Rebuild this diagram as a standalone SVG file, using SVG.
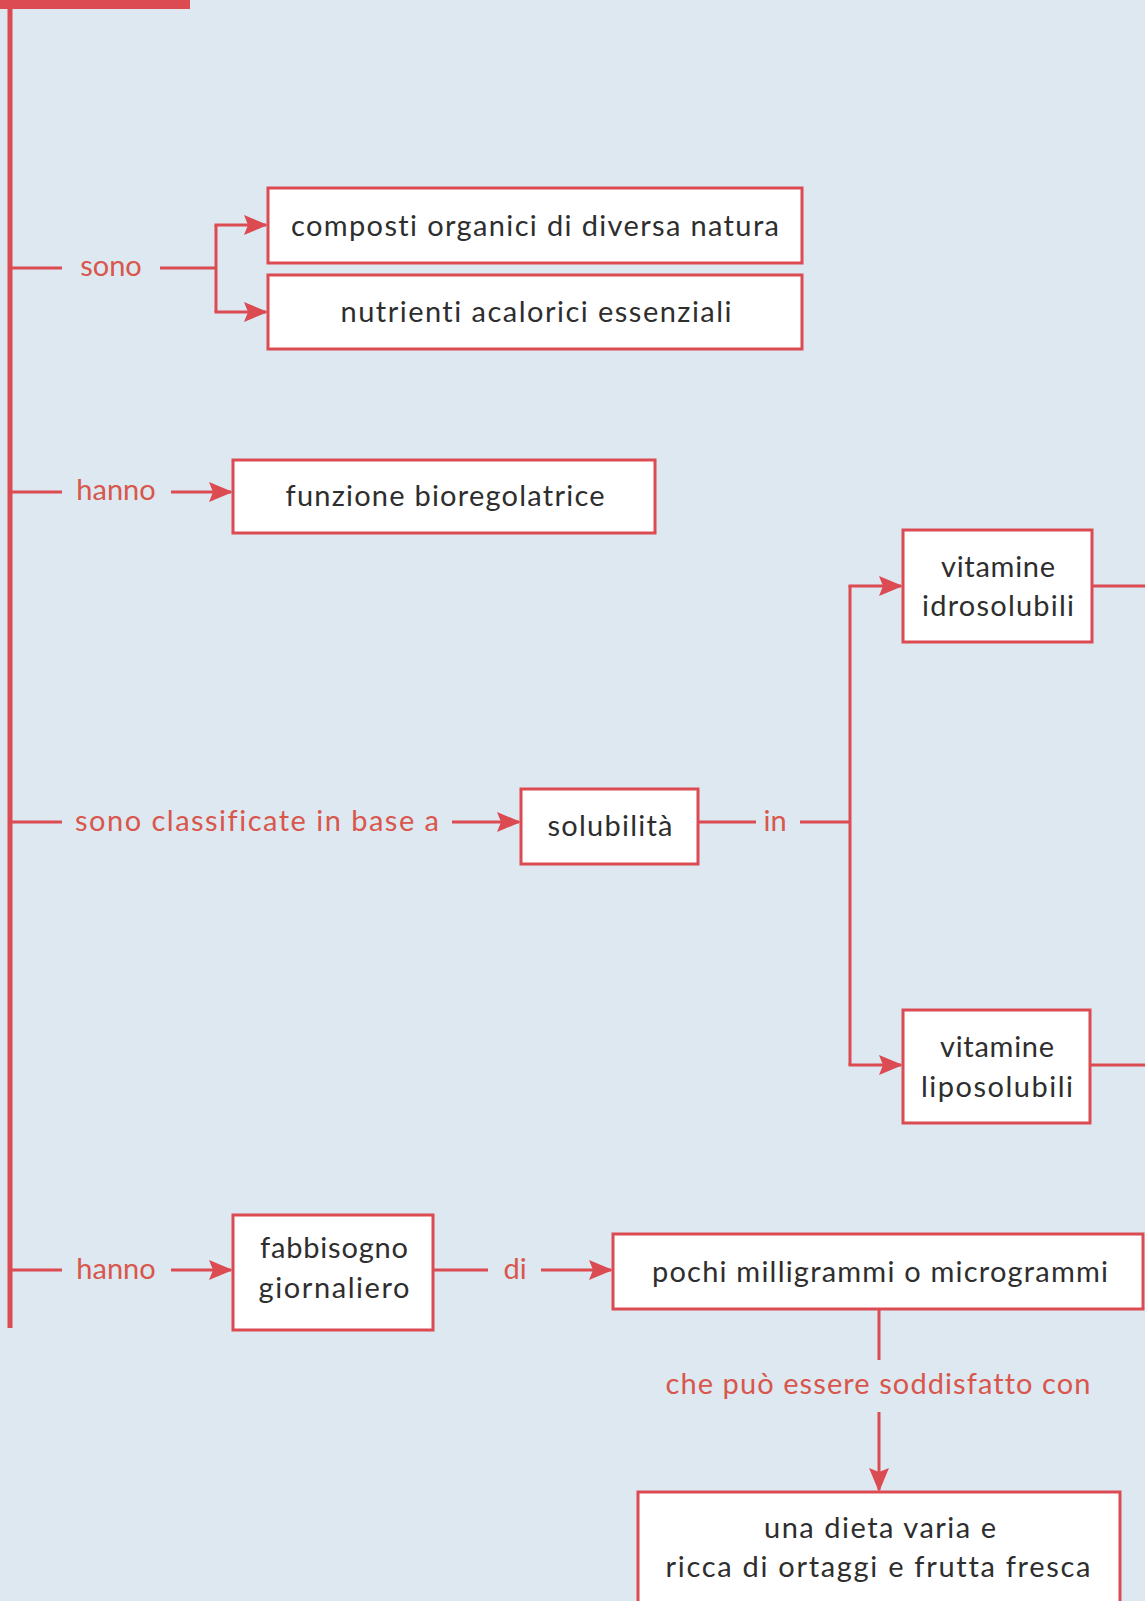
<svg xmlns="http://www.w3.org/2000/svg" width="1145" height="1601" viewBox="0 0 1145 1601">
  <defs>
    <marker id="arrow" markerUnits="userSpaceOnUse" markerWidth="24" markerHeight="20" refX="22" refY="10" orient="auto">
      <path d="M0,0 L24,10 L0,20 L4,10 Z" fill="#dc4b52"/>
    </marker>
    <style>
      .bg { fill: #dde8f0; }
      .node rect { fill: #ffffff; stroke: #dc4b52; stroke-width: 3; }
      .node text { font-family: Lato, "Open Sans", "Liberation Sans", sans-serif; font-size: 29px; fill: #2e2e2e; text-anchor: middle; font-variant-ligatures: none; }
      .conn line, .conn path { stroke: #dc4b52; stroke-width: 3; fill: none; }
      .conn .arr { marker-end: url(#arrow); }
      .lbl { font-family: Lato, "Open Sans", "Liberation Sans", sans-serif; font-size: 29px; fill: #d9564c; text-anchor: middle; font-variant-ligatures: none; }
    </style>
  </defs>

  <rect class="bg" x="0" y="0" width="1145" height="1601"/>

  <!-- spine and header tab -->
  <rect x="0" y="0" width="190" height="9" fill="#dc4b52"/>
  <line x1="10" y1="0" x2="10" y2="1328" stroke="#dc4b52" stroke-width="5"/>

  <g id="connectors" class="conn">
    <!-- sono -->
    <line x1="10" y1="268" x2="62" y2="268"/>
    <line x1="160" y1="268" x2="216" y2="268"/>
    <path d="M216,225 L216,312"/>
    <line class="arr" x1="214.5" y1="225" x2="266" y2="225"/>
    <line class="arr" x1="214.5" y1="312" x2="266" y2="312"/>
    <!-- hanno -->
    <line x1="10" y1="492" x2="62" y2="492"/>
    <line class="arr" x1="171" y1="492" x2="231" y2="492"/>
    <!-- sono classificate in base a -->
    <line x1="10" y1="822" x2="62" y2="822"/>
    <line class="arr" x1="452" y1="822" x2="519" y2="822"/>
    <!-- in -->
    <line x1="698" y1="822" x2="756" y2="822"/>
    <line x1="800" y1="822" x2="850" y2="822"/>
    <path d="M850,586 L850,1065"/>
    <line class="arr" x1="848.5" y1="586" x2="901" y2="586"/>
    <line class="arr" x1="848.5" y1="1065" x2="901" y2="1065"/>
    <line x1="1092" y1="586" x2="1145" y2="586"/>
    <line x1="1090" y1="1065" x2="1145" y2="1065"/>
    <!-- hanno (fabbisogno) -->
    <line x1="10" y1="1270" x2="62" y2="1270"/>
    <line class="arr" x1="171" y1="1270" x2="231" y2="1270"/>
    <!-- di -->
    <line x1="433" y1="1270" x2="488" y2="1270"/>
    <line class="arr" x1="541" y1="1270" x2="611" y2="1270"/>
    <!-- che può essere soddisfatto con -->
    <line x1="879" y1="1309" x2="879" y2="1360"/>
    <line class="arr" x1="879" y1="1412" x2="879" y2="1490"/>
  </g>

  <!-- connector labels -->
  <g id="labels">
    <text class="lbl" x="111" y="276">sono</text>
    <text class="lbl" x="116" y="500">hanno</text>
    <text class="lbl" x="257" y="831" textLength="364" lengthAdjust="spacing">sono classificate in base a</text>
    <text class="lbl" x="775" y="831">in</text>
    <text class="lbl" x="116" y="1279">hanno</text>
    <text class="lbl" x="515" y="1279">di</text>
    <text class="lbl" x="878" y="1394" textLength="425" lengthAdjust="spacing">che può essere soddisfatto con</text>
  </g>

  <g id="n-composti" class="node">
    <rect x="268" y="188" width="534" height="75"/>
    <text x="535" y="236" textLength="488" lengthAdjust="spacing">composti organici di diversa natura</text>
  </g>
  <g id="n-nutrienti" class="node">
    <rect x="268" y="275" width="534" height="74"/>
    <text x="536" y="322" textLength="391" lengthAdjust="spacing">nutrienti acalorici essenziali</text>
  </g>
  <g id="n-funzione" class="node">
    <rect x="233" y="460" width="422" height="73"/>
    <text x="445" y="506" textLength="319" lengthAdjust="spacing">funzione bioregolatrice</text>
  </g>
  <g id="n-solubilita" class="node">
    <rect x="521" y="789" width="177" height="75"/>
    <text x="610" y="836" textLength="125" lengthAdjust="spacing">solubilità</text>
  </g>
  <g id="n-idrosolubili" class="node">
    <rect x="903" y="530" width="189" height="112"/>
    <text x="998" y="577" textLength="114" lengthAdjust="spacing">vitamine</text>
    <text x="998" y="616" textLength="152" lengthAdjust="spacing">idrosolubili</text>
  </g>
  <g id="n-liposolubili" class="node">
    <rect x="903" y="1010" width="187" height="113"/>
    <text x="997" y="1057" textLength="114" lengthAdjust="spacing">vitamine</text>
    <text x="997" y="1097" textLength="152" lengthAdjust="spacing">liposolubili</text>
  </g>
  <g id="n-fabbisogno" class="node">
    <rect x="233" y="1215" width="200" height="115"/>
    <text x="334" y="1258" textLength="148" lengthAdjust="spacing">fabbisogno</text>
    <text x="334" y="1298" textLength="151" lengthAdjust="spacing">giornaliero</text>
  </g>
  <g id="n-pochi" class="node">
    <rect x="613" y="1234" width="530" height="75"/>
    <text x="880" y="1282" textLength="456" lengthAdjust="spacing">pochi milligrammi o microgrammi</text>
  </g>
  <g id="n-dieta" class="node">
    <rect x="638" y="1492" width="482" height="130"/>
    <text x="880" y="1538" textLength="232" lengthAdjust="spacing">una dieta varia e</text>
    <text x="878" y="1577" textLength="425" lengthAdjust="spacing">ricca di ortaggi e frutta fresca</text>
  </g>
</svg>
